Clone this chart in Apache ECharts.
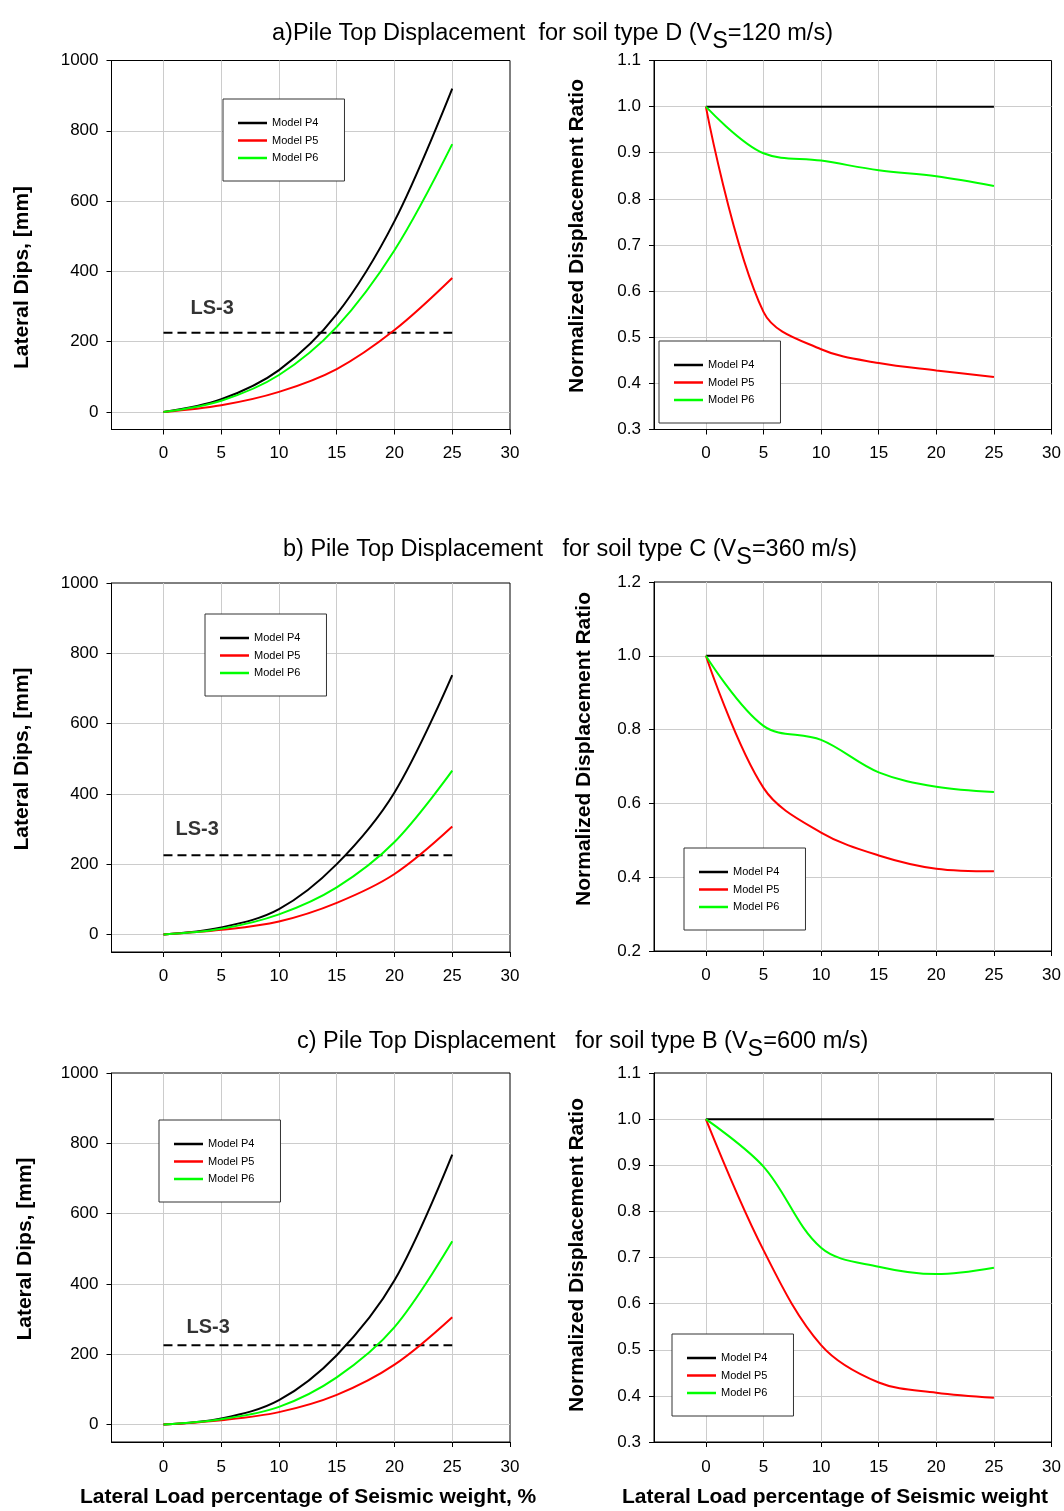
<!DOCTYPE html>
<html><head><meta charset="utf-8">
<script src="https://cdn.jsdelivr.net/npm/echarts@6/dist/echarts.min.js"></script>
<style>html,body{margin:0;padding:0;background:#fff}#c{width:1064px;height:1511px}</style>
</head><body><div id="c"></div><script>
// ---------- DATA ----------
const xPct = [0, 5, 10, 15, 20, 25];
const modelNames = ['Model P4', 'Model P5', 'Model P6'];

// a) soil type D
const dispD_P4 = [0, 36, 119, 278, 543, 920];
const dispD_P5 = [0, 19, 57, 122, 233, 381];
const dispD_P6 = [0, 32, 105, 242, 460, 762];
const ratioD_P4 = [1, 1, 1, 1, 1, 1];
const ratioD_P5 = [1, 0.555, 0.474, 0.444, 0.428, 0.414];
const ratioD_P6 = [1, 0.899, 0.883, 0.862, 0.849, 0.828];

// b) soil type C
const dispC_P4 = [0, 20, 72, 200, 404, 738];
const dispC_P5 = [0, 13, 37, 90, 172, 307];
const dispC_P6 = [0, 16, 57, 134, 263, 466];
const ratioC_P4 = [1, 1, 1, 1, 1, 1];
const ratioC_P5 = [1, 0.642, 0.521, 0.459, 0.423, 0.416];
const ratioC_P6 = [1, 0.81, 0.772, 0.684, 0.645, 0.631];

// c) soil type B
const dispB_P4 = [0, 17, 69, 197, 410, 768];
const dispB_P5 = [0, 12, 35, 84, 170, 305];
const dispB_P6 = [0, 15, 50, 134, 277, 521];
const ratioB_P4 = [1, 1, 1, 1, 1, 1];
const ratioB_P5 = [1, 0.716, 0.51, 0.429, 0.407, 0.396];
const ratioB_P6 = [1, 0.897, 0.721, 0.68, 0.664, 0.678];

// LS-3 limit line and its label anchors (data units)
const ls3Level = 225;
const ls3From = 0, ls3To = 25;
const ls3LabelD = [2.3, 293];
const ls3LabelC = [1.0, 300];
const ls3LabelB = [1.95, 275];

// ticks
const pctTicks = [0, 5, 10, 15, 20, 25, 30];
const dispTicks = [0, 200, 400, 600, 800, 1000];
const ratioTicks11 = [0.3, 0.4, 0.5, 0.6, 0.7, 0.8, 0.9, 1.0, 1.1];
const ratioTicks12 = [0.2, 0.4, 0.6, 0.8, 1.0, 1.2];

const titleA = ['a)Pile Top Displacement  for soil type D (V', 'S', '=120 m/s)'];
const titleB = ['b) Pile Top Displacement   for soil type C (V', 'S', '=360 m/s)'];
const titleC = ['c) Pile Top Displacement   for soil type B (V', 'S', '=600 m/s)'];
const yNameDisp = 'Lateral Dips, [mm]';
const yNameRatio = 'Normalized Displacement Ratio';
const xNameLeft = 'Lateral Load percentage of Seismic weight, %';
const xNameRight = 'Lateral Load percentage of Seismic weight';

// ---------- LAYOUT / STYLE ----------
const FF = '"Liberation Sans", Arial, sans-serif';
const colors = ['#000000', '#ff0000', '#00ff00'];
const LW = 398.5;
const panels = [
  {grid: {left: 111.5, top: 60.5, width: LW, height: 369}, kind: 'disp', data: [dispD_P4, dispD_P5, dispD_P6], ls3: ls3LabelD, legend: [223, 99], xMargin: 15},
  {grid: {left: 654, top: 60.5, width: LW, height: 369}, kind: 'ratio', ticks: ratioTicks11, data: [ratioD_P4, ratioD_P5, ratioD_P6], legend: [659, 341], xMargin: 15},
  {grid: {left: 111.5, top: 583, width: LW, height: 369}, kind: 'disp', data: [dispC_P4, dispC_P5, dispC_P6], ls3: ls3LabelC, legend: [205, 614], xMargin: 16},
  {grid: {left: 654, top: 582, width: LW, height: 369}, kind: 'ratio', ticks: ratioTicks12, data: [ratioC_P4, ratioC_P5, ratioC_P6], legend: [684, 848], xMargin: 16},
  {grid: {left: 111.5, top: 1073, width: LW, height: 369}, kind: 'disp', data: [dispB_P4, dispB_P5, dispB_P6], ls3: ls3LabelB, legend: [159, 1120], xMargin: 17},
  {grid: {left: 654, top: 1073, width: LW, height: 369}, kind: 'ratio', ticks: ratioTicks11, data: [ratioB_P4, ratioB_P5, ratioB_P6], legend: [672, 1334], xMargin: 17}
];

const grids = [], xAxes = [], yAxes = [], series = [], legends = [];
panels.forEach((p, i) => {
  grids.push(Object.assign({show: true, borderColor: '#000', borderWidth: 1, backgroundColor: '#fff', containLabel: false}, p.grid));
  xAxes.push({
    type: 'value', gridIndex: i, min: -4.5, max: 30,
    axisLine: {show: true, onZero: false, lineStyle: {color: '#000', width: 1}},
    axisTick: {show: true, customValues: pctTicks, length: 5, lineStyle: {color: '#000'}},
    axisLabel: {customValues: pctTicks, margin: p.xMargin, fontSize: 17, color: '#000', fontFamily: FF},
    splitLine: {show: true, showMaxLine: false, lineStyle: {color: '#cccccc', width: 1}}
  });
  const yt = p.kind === 'disp' ? dispTicks : p.ticks;
  yAxes.push({
    type: 'value', gridIndex: i,
    min: p.kind === 'disp' ? -50 : yt[0], max: yt[yt.length - 1],
    axisLine: {show: true, onZero: false, lineStyle: {color: '#000', width: 1}},
    axisTick: {show: true, customValues: yt, length: 5, lineStyle: {color: '#000'}},
    axisLabel: {customValues: yt, margin: 13, fontSize: 17, color: '#000', fontFamily: FF,
      formatter: p.kind === 'disp' ? (v => String(Math.round(v))) : (v => v.toFixed(1))},
    splitLine: {show: true, showMaxLine: false, lineStyle: {color: '#cccccc', width: 1}}
  });
  p.data.forEach((arr, k) => {
    series.push({
      type: 'line', name: modelNames[k], xAxisIndex: i, yAxisIndex: i,
      data: xPct.map((x, j) => [x, arr[j]]),
      smooth: 0.35, symbol: 'none', showSymbol: false,
      lineStyle: {color: colors[k], width: 2}, itemStyle: {color: colors[k]},
      silent: true, z: 3
    });
  });
  if (p.kind === 'disp') {
    series.push({
      type: 'line', name: 'LS-3', xAxisIndex: i, yAxisIndex: i,
      data: [[ls3From, ls3Level], [ls3To, ls3Level]],
      symbol: 'none', lineStyle: {color: '#000', width: 2, type: [9, 5]}, silent: true, z: 2
    });
    series.push({
      type: 'scatter', name: 'LS-3 label', xAxisIndex: i, yAxisIndex: i,
      data: [p.ls3], symbol: 'circle', symbolSize: 1, itemStyle: {color: 'rgba(0,0,0,0)'},
      label: {show: true, position: 'right', distance: 0, formatter: 'LS-3', fontSize: 20, fontWeight: 'bold', color: '#000', fontFamily: FF},
      silent: true, z: 3
    });
  }
  legends.push({
    left: p.legend[0], top: p.legend[1], orient: 'vertical', data: modelNames,
    icon: 'rect', itemWidth: 29, itemHeight: 2.5, itemGap: 3.5,
    padding: [17, 26, 16, 15], borderColor: '#333', borderWidth: 1, backgroundColor: '#fff',
    textStyle: {fontSize: 11, fontFamily: FF, color: '#000', lineHeight: 14},
    selectedMode: false, z: 5
  });
});

function mkTitle(parts, left, top) {
  return {
    text: '{m|' + parts[0] + '}{s|' + parts[1] + '}{m|' + parts[2] + '}',
    left: left, top: top, padding: 0,
    textStyle: {fontWeight: 'normal', fontSize: 23.5, fontFamily: FF, color: '#000', rich: {
      m: {fontSize: 23.5, fontWeight: 'normal', fontFamily: FF, color: '#000', lineHeight: 34, verticalAlign: 'top'},
      s: {fontSize: 23.5, fontWeight: 'normal', fontFamily: FF, color: '#000', lineHeight: 34, verticalAlign: 'top', padding: [8, 0, 0, 0]}
    }}
  };
}

function vText(text, x, y) {
  return {type: 'text', x: x, y: y, rotation: Math.PI / 2, z: 10,
    style: {text: text, font: 'bold 21px ' + FF, fill: '#000', align: 'center', verticalAlign: 'middle', textAlign: 'center', textVerticalAlign: 'middle'}};
}
function hText(text, x, y) {
  return {type: 'text', x: x, y: y, z: 10,
    style: {text: text, font: 'bold 21px ' + FF, fill: '#000', align: 'left', verticalAlign: 'middle', textAlign: 'left', textVerticalAlign: 'middle'}};
}

const chart = echarts.init(document.getElementById('c'), null, {renderer: 'canvas'});
chart.setOption({
  backgroundColor: '#fff',
  animation: false,
  title: [mkTitle(titleA, 272, 22), mkTitle(titleB, 283, 538), mkTitle(titleC, 297, 1030)],
  legend: legends,
  grid: grids,
  xAxis: xAxes,
  yAxis: yAxes,
  series: series,
  graphic: [
    vText(yNameDisp, 22.5, 277.5), vText(yNameRatio, 577, 236),
    vText(yNameDisp, 22, 759), vText(yNameRatio, 584.5, 749),
    vText(yNameDisp, 25, 1249), vText(yNameRatio, 577, 1255),
    hText(xNameLeft, 80, 1497), hText(xNameRight, 622, 1497)
  ]
});
</script></body></html>
